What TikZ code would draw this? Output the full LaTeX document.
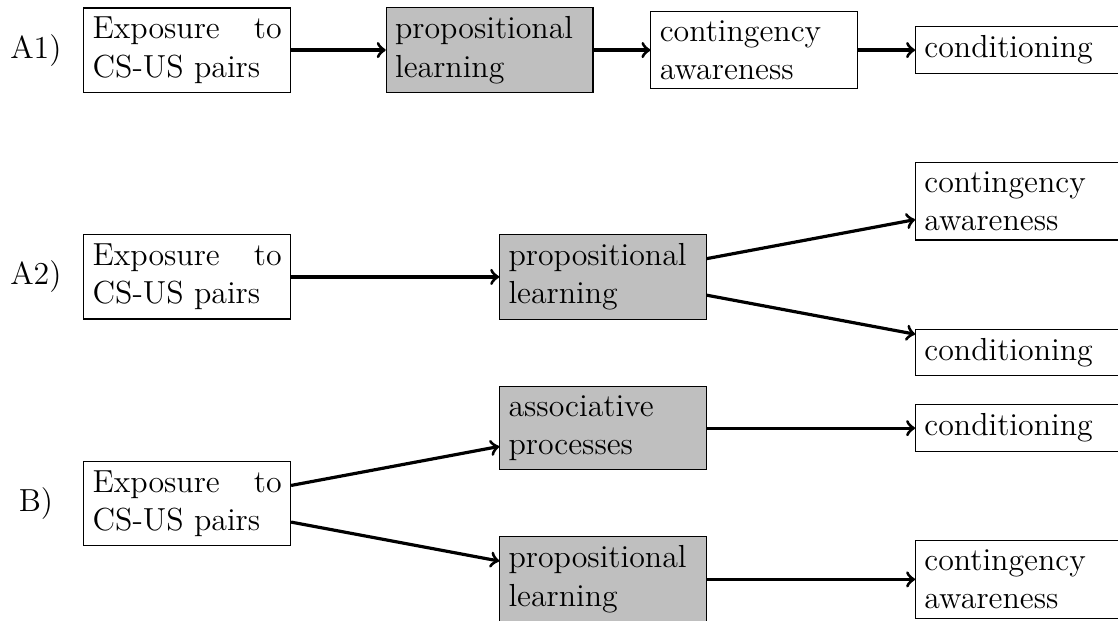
\documentclass[tikz,border=0pt]{standalone}
\begin{document}
\begin{tikzpicture}[box/.style={draw, text width=2.5cm, align=justify, font=\fontsize{12}{14.5}\selectfont},
  grey/.style={box, fill=gray!50},
  tag/.style={font=\fontsize{12}{14.5}\selectfont},
  link/.style={->, very thick}]
\useasboundingbox (-2.475,0.662) rectangle (12.31,-7.55);
\clip (-2.475,0.662) rectangle (12.31,-7.55);
% A1
\node[tag] (tagA) at (-2,0) {A1)};
\node[box] (expA) at (0,0) {Exposure to CS-US pairs};
\node[grey] (propA) at (4,0) {propositional learning};
\node[box] (contA) at (7.5,0) {contingency awareness};
\node[box] (condA) at (11,0) {conditioning};
\draw[link] (expA) -- (propA);
\draw[link] (propA) -- (contA);
\draw[link] (contA) -- (condA);
% A2
\node[tag] (tagB) at (-2,-3) {A2)};
\node[box] (expB) at (0,-3) {Exposure to CS-US pairs};
\node[grey] (propB) at (5.5,-3) {propositional learning};
\node[box] (contB) at (11,-2) {contingency awareness};
\node[box] (condB) at (11,-4) {conditioning};
\draw[link] (expB) -- (propB);
\draw[link] (propB.10) -- (contB.190);
\draw[link] (propB.-10) -- (condB.170);
% B
\node[tag] (tagC) at (-2,-6) {B)};
\node[box] (expC) at (0,-6) {Exposure to CS-US pairs};
\node[grey] (assocC) at (5.5,-5) {associative processes};
\node[grey] (propC) at (5.5,-7) {propositional learning};
\node[box] (condC) at (11,-5) {conditioning};
\node[box] (contC) at (11,-7) {contingency awareness};
\draw[link] (expC.10) -- (assocC.190);
\draw[link] (expC.-10) -- (propC.170);
\draw[link] (assocC) -- (condC);
\draw[link] (propC) -- (contC);
\end{tikzpicture}
\end{document}
